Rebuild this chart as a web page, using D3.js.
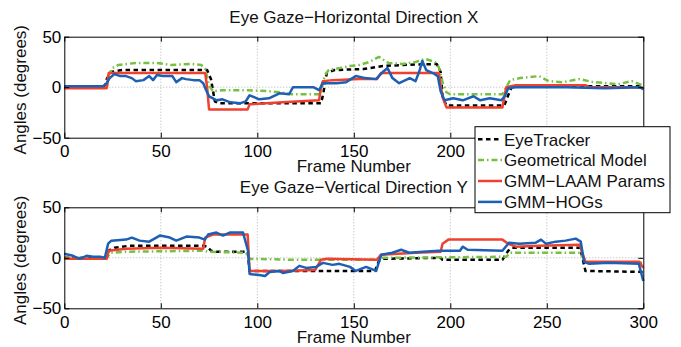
<!DOCTYPE html>
<html lang="en">
    <head>
        <meta charset="utf-8">
        <title>Eye Gaze</title>
        <script src="https://d3js.org/d3.v7.min.js"></script>
        <style type="text/css">
            body { margin: 0; background: #fff; }
            svg { font-family: "Liberation Sans", Arial, Helvetica, sans-serif; }
            .axis path, .axis line { stroke: #000; stroke-width: 1px; }
            .axis text { font-size: 17px; fill: #000; font-family: "Liberation Sans", Arial, sans-serif; }
            .grid line { stroke: #b4b4b4; stroke-width: 1px; stroke-dasharray: 1 2; }
            .line { fill: none; stroke-width: 2.5px; stroke-linejoin: round; }
            .label { font-size: 17px; fill: #111; }
        </style>
    </head>
    <body>
        <script type="text/javascript">

            const w = 681;
            const h = 347;

            const xTicks = [0, 50, 100, 150, 200, 250, 300];
            const yTicks = [-50, 0, 50];
            const seriesNames = ["EyeTracker", "Geometrical Model", "GMM\u2212LAAM Params", "GMM\u2212HOGs"];
            const titles = ["Eye Gaze\u2212Horizontal Direction X", "Eye Gaze\u2212Vertical Direction Y"];

            // [frame, angle] points
            const topEye = [[0,0],[21,0],[22,8],[24,15],[30,17],[74,17],[76,8],[78,-14],[80,-16],[133,-16],[134,-8],[136,14],[140,17],[155,18],[165,21],[175,22],[193,23],[195,15],[196,-10],[198,-18],[228,-18],[230,-8],[232,1],[300,1]];
            const topGeo = [[0,0],[22,0],[23,12],[25,19],[28,22],[37,24],[48,24],[55,22],[66,23],[71,22],[73,18],[75,2],[77,-4],[82,-3],[95,-3],[106,-4],[112,-5],[118,-7],[133,-7],[134,5],[135,12],[137,17],[143,19],[148,21],[153,22],[158,25],[163,30],[168,24],[175,23],[182,25],[187,28],[192,25],[194,20],[196,5],[198,-5],[200,-7],[227,-7],[229,0],[231,7],[236,9],[241,10],[246,11],[251,6],[258,5],[267,8],[274,5],[281,4],[287,3],[294,6],[298,3],[300,2]];
            const topLaam = [[0,-1],[22,-1],[23,14],[73,14],[74,0],[75,-22],[95,-22],[96,-17],[113,-15],[132,-13],[133,0],[134,6],[139,7],[153,8],[162,8],[164,14],[194,14],[196,-10],[198,-20],[227,-20],[228,-10],[229,0],[234,2],[270,2],[272,0],[299,0],[300,-2]];
            const topHog = [[0,1],[20,1],[22,4],[23.5,9],[26,13],[29,11],[32,11],[35,9],[37,6],[41,7],[44,11],[46,7],[48,12],[51,11],[56,11],[58,5],[61,9],[63,8],[67,7],[70,7],[72,4],[73.5,-3],[75,-9],[79,-13],[82,-12],[86,-15],[91,-16],[94,-14],[96,-8],[101,-12],[106,-11],[111.5,-6],[116.5,-7],[118.5,0],[129,0],[132,-3],[134,4],[141,4],[146,5],[151,11],[156,9],[161.5,8],[165,15],[167.5,19],[170,9],[173.5,4],[179,9],[182,6],[184,16],[185.5,26],[187.5,17],[191,14],[193.5,11],[195,-4],[197,-13],[201.5,-11],[206.5,-13],[212,-9],[215.5,-13],[220.5,-11],[226.5,-13],[228.5,-8],[230,-1],[234,0],[260,0],[280,-1],[298,0],[300,-2]];

            const botEye = [[0,0],[22,0],[23,7],[26,10],[34,12],[72,12],[74,11],[76,7],[79,6],[95,6],[96,-13],[161,-13],[163,-3],[165,-1],[195,0],[196,-2],[227,-2],[230,7],[232,10],[267,10],[268,4],[270,-13],[300,-14]];
            const botGeo = [[0,0],[22,0],[24,5],[32,6],[72,7],[75,6],[94,5],[96,-1],[120,-2],[162,-2],[164,0],[229,1],[231,5],[267,5],[269,0],[271,-5],[300,-5]];
            const botLaam = [[0,-1],[22,-1],[23,7],[32,9],[50,10],[72,9],[73,20],[77,23],[95,23],[96,-13],[113,-13],[130,-12],[133,-2],[136,-1],[162,-2],[164,3],[182,5],[195,6],[196,14],[199,18],[227,18],[230,14],[234,11],[246,12],[267,13],[268,7],[270,-4],[298,-4],[300,-10]];
            const botHog = [[0,4],[4.5,2],[8,-1],[11.5,2],[15,1],[18.5,1],[21,0],[22.7,14],[24.4,17],[32,18],[35,20],[39,17],[44,16],[49.5,22],[54.7,20],[58,17],[63.3,21],[70,20],[72.8,18],[74.5,23],[78.8,25],[82.2,22],[85.7,25],[92.6,25],[95.2,7],[96,-16],[101,-17],[104,-18],[106.4,-14],[111.5,-13],[113.2,-15],[118.4,-13],[121.8,-8],[125.3,-10],[130.5,-9],[134,-5],[139,-7],[142.5,-6],[148,-9],[151,-13],[156.4,-9],[161.6,-13],[164.2,3],[170,5],[174.5,8],[178.8,5],[185.7,6],[194,7],[205,7],[206.4,11],[209,8],[227,7],[230.5,15],[235.7,14],[244.3,15],[247,18],[249.5,14],[254.7,16],[259.8,17],[265,19],[267.6,16],[269.3,-4],[272,-6],[282,-5],[297.7,-6],[300,-23]];

            const colors = ["#000000", "#76c142", "#f0412e", "#1d5fb3"];
            const dashes = ["4.5 3.5", "6 3 1.5 3", null, null];

            const left = 64.3, right = 643.3;
            const panels = [
                {top: 36.7, bottom: 137.7, title: titles[0], data: [topEye, topGeo, topLaam, topHog], titleY: 23, labelY: 172},
                {top: 207.3, bottom: 308.3, title: titles[1], data: [botEye, botGeo, botLaam, botHog], titleY: 193, labelY: 343}
            ];

            const svg = d3.select("body").append("svg").attr("width", w).attr("height", h);

            const xScale = d3.scaleLinear().domain([0, 300]).range([left, right]);

            panels.forEach(p => {
                const yScale = d3.scaleLinear().domain([-50, 50]).range([p.bottom, p.top]);
                const g = svg.append("g");

                // grid
                g.append("g").attr("class", "grid")
                    .selectAll("line").data(xTicks.slice(1, -1)).enter().append("line")
                    .attr("x1", d => xScale(d)).attr("x2", d => xScale(d))
                    .attr("y1", p.top).attr("y2", p.bottom);
                g.append("g").attr("class", "grid")
                    .append("line")
                    .attr("x1", left).attr("x2", right)
                    .attr("y1", yScale(0)).attr("y2", yScale(0));

                // data lines
                const line = d3.line().x(d => xScale(d[0])).y(d => yScale(d[1]));
                g.selectAll(".line").data(p.data).enter().append("path")
                    .attr("class", "line")
                    .attr("d", d => line(d))
                    .style("stroke", (d, i) => colors[i])
                    .style("stroke-dasharray", (d, i) => dashes[i]);

                // axes (inward ticks on all four sides)
                g.append("g").attr("class", "axis")
                    .attr("transform", "translate(0," + p.bottom + ")")
                    .call(d3.axisBottom(xScale).tickValues(xTicks).tickSize(-5).tickSizeOuter(0).tickPadding(7.5));
                g.append("g").attr("class", "axis")
                    .attr("transform", "translate(0," + p.top + ")")
                    .call(d3.axisTop(xScale).tickValues(xTicks).tickSize(-5).tickSizeOuter(0).tickFormat(""));
                g.append("g").attr("class", "axis")
                    .attr("transform", "translate(" + left + ",0)")
                    .call(d3.axisLeft(yScale).tickValues(yTicks).tickSize(-5).tickSizeOuter(0).tickPadding(3));
                g.append("g").attr("class", "axis")
                    .attr("transform", "translate(" + right + ",0)")
                    .call(d3.axisRight(yScale).tickValues(yTicks).tickSize(-5).tickSizeOuter(0).tickFormat(""));

                g.append("text").attr("class", "label")
                    .attr("x", (left + right) / 2).attr("y", p.titleY)
                    .attr("text-anchor", "middle").text(p.title);
                g.append("text").attr("class", "label")
                    .attr("x", (left + right) / 2).attr("y", p.labelY)
                    .attr("text-anchor", "middle").text("Frame Number");
                g.append("text").attr("class", "label")
                    .attr("transform", "translate(25.5," + ((p.top + p.bottom) / 2 + 2.5) + ") rotate(-90)")
                    .attr("text-anchor", "middle").text("Angles (degrees)");
            });

            // legend
            const legend = svg.append("g").attr("transform", "translate(475,126.7)");
            legend.append("rect")
                .attr("width", 195).attr("height", 86)
                .attr("fill", "#fff").attr("stroke", "#000").attr("stroke-width", 1);
            const items = legend.selectAll(".legend").data(seriesNames).enter().append("g")
                .attr("class", "legend")
                .attr("transform", (d, i) => `translate(0,${18.8 + i * 20.9})`);
            items.append("line")
                .attr("x1", 3).attr("x2", 27).attr("y1", -6.3).attr("y2", -6.3)
                .attr("stroke-width", 2.5)
                .style("stroke", (d, i) => colors[i])
                .style("stroke-dasharray", (d, i) => dashes[i]);
            items.append("text").attr("class", "label")
                .attr("x", 29).attr("y", 0)
                .text(d => d);
        </script>
    </body>
</html>
